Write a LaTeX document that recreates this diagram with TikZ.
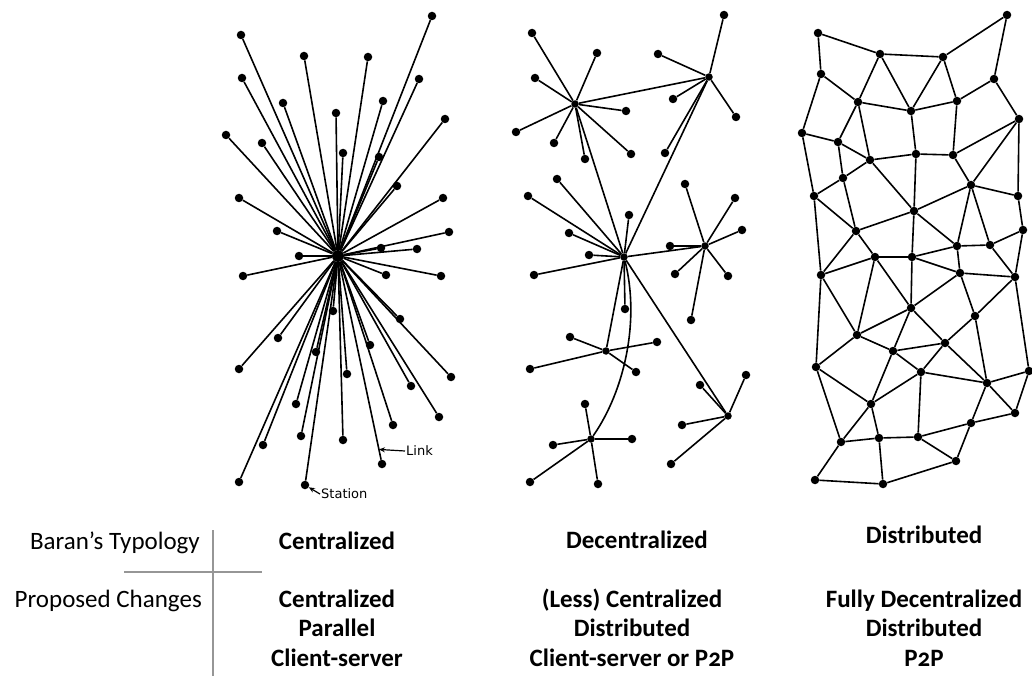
\documentclass[tikz,border=0pt]{standalone}
\usepackage{fontspec}
\setmainfont{Carlito}[Numbers=OldStyle]
\newfontfamily\letterfont{DejaVu Sans}
\definecolor{rulegray}{RGB}{150, 150, 150}
\usetikzlibrary{arrows.meta, calc}

\tikzset{
  station/.style={circle, fill=black, inner sep=0pt, minimum size=8.5pt},
  link/.style={line width=1.6pt},
  callout/.style={-{Stealth[length=6pt, width=5pt]}, line width=1.2pt},
  rowlabel/.style={anchor=base east, inner sep=0pt, font=\fontsize{25}{30}\selectfont},
  cell/.style={align=center, inner sep=0pt, font=\fontsize{25}{29.5}\selectfont\bfseries},
}

\begin{document}
\begin{tikzpicture}[x=1pt, y=-1pt]
  \useasboundingbox (0,0) rectangle (1032,676);

  % Centralized
  \node[station, minimum size=12pt] (chub) at (338,256) {};
  \foreach \n/\x/\y in {c1/432/16, c2/241/35, c3/304/56, c4/368/57, c5/242/78,
      c6/419/79, c7/283/103, c8/383/101, c9/336/113, c10/445/119, c11/226/135,
      c12/262/143, c13/343/153, c14/379/157, c15/397/186, c16/239/198,
      c17/443/198, c18/277/231, c19/449/232, c20/381/248, c21/417/249,
      c22/299/256, c23/243/276, c24/386/275, c25/441/276, c26/333/311,
      c27/400/319, c28/278/338, c29/370/345, c30/316/352, c31/239/369,
      c32/347/374, c33/451/377, c34/411/386, c35/296/404, c36/439/417,
      c37/393/425, c38/301/436, c39/263/445, c40/343/440, c41/382/464,
      c42/239/482, c43/305/485} {
    \node[station] (\n) at (\x,\y) {};
    \draw[link] (chub) -- (\n);
  }
  \node[font=\letterfont\fontsize{13}{13}\selectfont, inner sep=1pt, anchor=west] (linklbl) at (405,451) {Link};
  \coordinate (linkpt) at ($(chub)!0.93!(c41)$);
  \draw[callout] (linklbl.west) -- (linkpt);
  \node[font=\letterfont\fontsize{13}{13}\selectfont, inner sep=1pt, anchor=west] (stationlbl) at (320,494) {Station};
  \draw[callout] (stationlbl.west) -- (c43);

  % Decentralized
  \foreach \n/\x/\y in {dA/575/104, dB/709/77, dC/624/257, dD/705/246,
      dE/606/351, dF/591/439, dG/728/416}
    \node[station, minimum size=7.5pt] (\n) at (\x,\y) {};
  \foreach \h/\n/\x/\y in {dA/da1/532/33, dA/da2/597/53, dA/da3/535/78,
      dA/da4/626/111, dA/da5/516/132, dA/da6/554/143, dA/da7/585/159,
      dA/da8/631/154,
      dB/db1/724/15, dB/db2/658/54, dB/db3/673/99, dB/db4/736/117, dB/db5/665/153,
      dC/dc1/557/179, dC/dc2/528/196, dC/dc3/629/215, dC/dc4/569/233,
      dC/dc5/589/255, dC/dc6/534/275, dC/dc7/625/309,
      dD/dd1/685/184, dD/dd2/735/198, dD/dd3/742/230, dD/dd4/670/246,
      dD/dd5/675/274, dD/dd6/728/276, dD/dd7/691/320,
      dE/de1/570/337, dE/de2/657/342, dE/de3/530/369, dE/de4/636/372,
      dF/df1/585/404, dF/df2/553/445, dF/df3/632/439, dF/df4/530/482,
      dF/df5/598/484,
      dG/dg1/700/385, dG/dg2/746/375, dG/dg3/682/425, dG/dg4/671/464} {
    \node[station] (\n) at (\x,\y) {};
    \draw[link] (\h) -- (\n);
  }
  \draw[link] (dA) -- (dB) (dA) -- (dC) (dB) -- (dC) (dC) -- (dD) (dC) -- (dE) (dC) -- (dG);
  \draw[link] (dC) .. controls (640,320) and (625,390) .. (dF);

  % Distributed
  \foreach \n/\x/\y in {m1/818/33, m2/1007/15, m3/880/54, m4/943/57, m5/821/74,
      m6/994/79, m7/858/102, m8/911/111, m9/957/101, m10/1019/119,
      m11/802/133, m12/838/142, m13/916/154, m14/953/155, m15/870/160,
      m16/843/178, m17/971/185, m18/814/196, m19/1018/196, m20/914/211,
      m21/856/231, m22/1023/230, m23/957/246, m24/990/245, m25/875/257,
      m26/912/257, m27/821/275, m28/960/273, m29/1015/277, m30/911/308,
      m31/975/316, m32/857/335, m33/945/343, m34/893/351, m35/816/367,
      m36/921/372, m37/1029/371, m38/987/383, m39/871/404, m40/1015/413,
      m41/971/423, m42/841/442, m43/879/438, m44/918/437, m45/956/461,
      m46/815/480, m47/883/484}
    \node[station] (\n) at (\x,\y) {};
  \foreach \a/\b in {m1/m3, m1/m5, m3/m4, m4/m2, m2/m6, m3/m7, m3/m8, m4/m8,
      m4/m9, m6/m9, m6/m10, m5/m7, m5/m11, m7/m8, m8/m9, m7/m12, m7/m15,
      m11/m12, m11/m18, m12/m15, m12/m16, m8/m13, m9/m14, m13/m14, m13/m15,
      m10/m14, m14/m17, m10/m17, m10/m19, m15/m16, m16/m18, m16/m21, m15/m20,
      m13/m20, m17/m20, m17/m19, m17/m23, m17/m24, m18/m21, m18/m27, m20/m21,
      m20/m23, m20/m26, m23/m24, m22/m24, m19/m22, m21/m27, m21/m25, m22/m29,
      m24/m29, m23/m28, m25/m26, m23/m26, m26/m28, m26/m30, m25/m30, m25/m32,
      m25/m27, m27/m32, m27/m35, m28/m30, m28/m29, m28/m31, m29/m31, m29/m37,
      m30/m32, m30/m34, m30/m33, m31/m33, m31/m38, m32/m34, m32/m35, m33/m34,
      m33/m36, m33/m38, m34/m36, m34/m39, m35/m39, m35/m42, m36/m39, m36/m38,
      m36/m44, m37/m38, m37/m40, m38/m40, m38/m41, m40/m41, m41/m44, m41/m45,
      m39/m42, m39/m43, m42/m43, m42/m46, m43/m44, m43/m47, m44/m45, m46/m47,
      m45/m47}
    \draw[link] (\a) -- (\b);

  % Table
  \node[rowlabel] (baran) at (200,549) {Baran’s Typology};
  \node[rowlabel] (proposed) at (202,607) {Proposed Changes};
  \coordinate (vtop) at (213,530);
  \coordinate (vbot) at (213,676);
  \coordinate (hleft) at (124,572);
  \coordinate (hright) at (262,572);
  \draw[rulegray, line width=1.2pt] (vtop) -- (vbot) (hleft) -- (hright);

  \node[cell, anchor=base] (typcen) at (337,549) {Centralized};
  \node[cell, anchor=base] (typdec) at (637,548) {Decentralized};
  \node[cell, anchor=base] (typdis) at (924,543) {Distributed};

  \node[cell, anchor=base] (chgcen) at (337,666) {Centralized\\Parallel\\Client-server};
  \node[cell, anchor=base] (chgdec) at (632,666) {(Less) Centralized\\Distributed\\Client-server or P2P};
  \node[cell, anchor=base] (chgdis) at (924,666) {Fully Decentralized\\Distributed\\P2P};
\end{tikzpicture}
\end{document}
